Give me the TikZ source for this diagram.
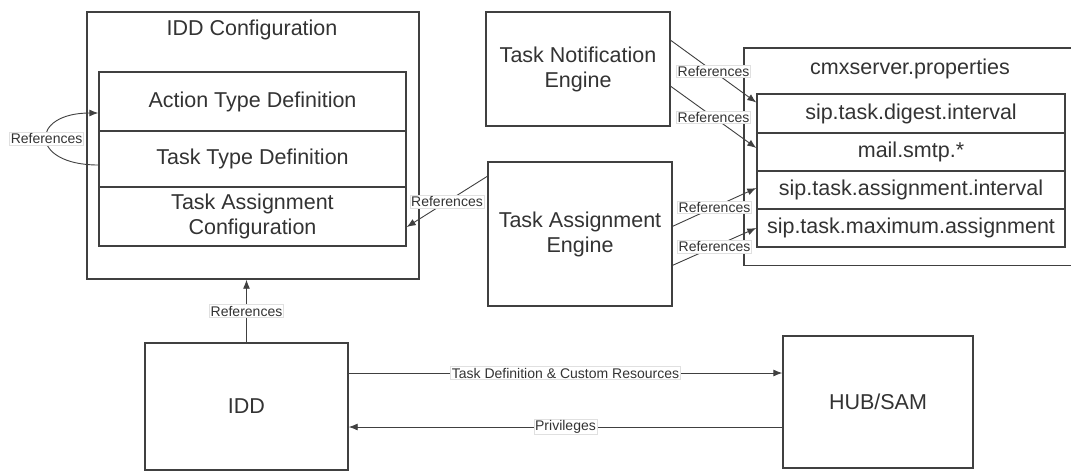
\documentclass[tikz,border=0pt]{standalone}
\usepackage{fontspec}
\setmainfont{Liberation Sans}
\usetikzlibrary{arrows.meta,calc}
\definecolor{ln}{HTML}{404040}
\definecolor{tx}{HTML}{333333}
\tikzset{
  box/.style={draw=ln, line width=1.4pt, rectangle, inner sep=0pt, text=tx, align=center,
    font=\fontsize{21.5}{25}\selectfont},
  ttl/.style={inner sep=0pt, text=tx, font=\fontsize{21.5}{25}\selectfont},
  conn/.style={draw=ln, line width=0.9pt, -{Latex[length=9pt,width=7pt]}},
  lbl/.style={fill=white, draw=black!12, line width=0.5pt, inner sep=1.2pt, text=tx,
    font=\fontsize{14}{16}\selectfont}
}
\begin{document}
\begin{tikzpicture}[x=1pt,y=-1pt]
\useasboundingbox (0,0) rectangle (1071,474);
\fill[white] (0,0) rectangle (1071,474);
% IDD Configuration
\node[box, minimum width=332pt, minimum height=267pt] (iddconf) at (253,145.5) {};
\node[ttl] (iddconft) at (252,30) {IDD Configuration};
\node[box, minimum width=307pt, minimum height=59pt] (atd) at (252.5,101.5) {Action Type Definition};
\node[box, minimum width=307pt, minimum height=56pt] (ttd) at (252.5,159) {Task Type Definition};
\node[box, minimum width=307pt, minimum height=59pt] (tac) at (252.5,216.5) {Task Assignment\\Configuration};
% Engines
\node[box, minimum width=184pt, minimum height=114pt] (tne) at (578,69) {Task Notification\\Engine};
\node[box, minimum width=184pt, minimum height=144pt] (tae) at (580,234) {Task Assignment\\Engine};
% cmxserver.properties (open to the right, runs off the picture)
\node[minimum width=336pt, minimum height=217pt, inner sep=0pt] (cmx) at (912,156.5) {};
\draw[draw=ln, line width=1.4pt] (cmx.north east) -- (cmx.north west) -- (cmx.south west) -- (cmx.south east);
\node[ttl] (cmxt) at (910,69) {cmxserver.properties};
\node[box, minimum width=308pt, minimum height=39pt] (dig) at (911,113.5) {sip.task.digest.interval};
\node[box, minimum width=308pt, minimum height=38pt] (mail) at (911,152) {mail.smtp.*};
\node[box, minimum width=308pt, minimum height=38pt] (sai) at (911,190) {sip.task.assignment.interval};
\node[box, minimum width=308pt, minimum height=38pt] (stm) at (911,228) {sip.task.maximum.assignment};
% IDD and HUB/SAM
\node[box, minimum width=203pt, minimum height=127pt] (idd) at (246.5,406.5) {IDD};
\node[box, minimum width=190pt, minimum height=132pt] (hub) at (878,402) {HUB/SAM};
\coordinate (tdA) at ($(idd.east)+(0,-33.5)$);
\coordinate (tdB) at (tdA -| hub.west);
\coordinate (prA) at ($(idd.east)+(0,20.5)$);
\coordinate (prB) at (prA -| hub.west);
% connectors
\draw[conn] ($(ttd.west)+(0,6)$) .. controls +(-69,0) and +(-69,0) .. node[lbl, pos=0.5] {References} ($(atd.west)+(0,11.5)$);
\draw[conn] ($(tne.north east)+(0,29)$) -- node[lbl] {References} ($(dig.west)+(0,-11)$);
\draw[conn] ($(tne.north east)+(0,75)$) -- node[lbl] {References} ($(mail.west)+(0,-4)$);
\draw[conn] ($(tae.north east)+(0,65)$) -- node[lbl] {References} ($(sai.west)+(0,-2)$);
\draw[conn] ($(tae.north east)+(0,104)$) -- node[lbl] {References} (stm.west);
\draw[conn] ($(tae.north west)+(0,15)$) -- node[lbl] {References} ($(tac.east)+(0,10.5)$);
\draw[conn] (idd.north) -- node[lbl] {References} (idd.north |- iddconf.south);
\draw[conn] (tdA) -- node[lbl] {Task Definition \& Custom Resources} (tdB);
\draw[conn] (prB) -- node[lbl] {Privileges} (prA);
\end{tikzpicture}
\end{document}
